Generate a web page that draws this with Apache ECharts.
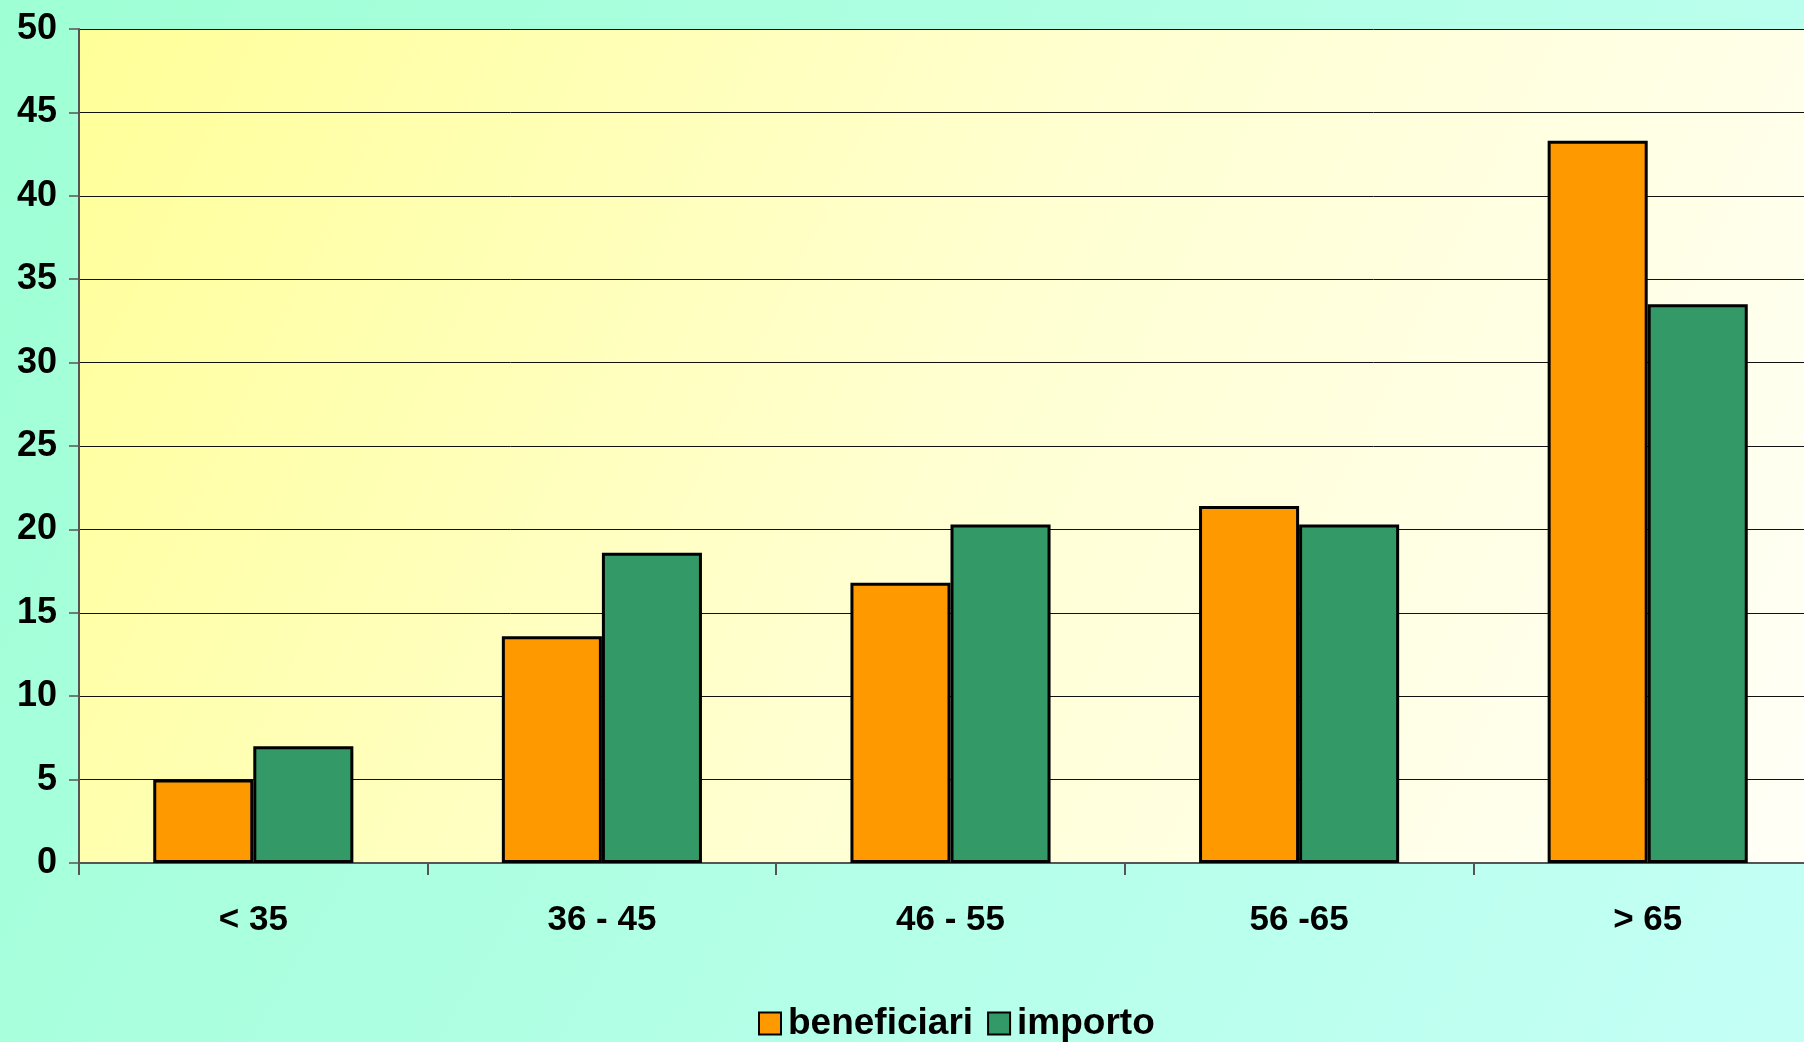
<!DOCTYPE html>
<html>
<head>
<meta charset="utf-8">
<script src="https://cdn.jsdelivr.net/npm/echarts@6/dist/echarts.min.js"></script>
<style>html,body{margin:0;padding:0;}#c{width:1804px;height:1042px;}</style>
</head>
<body>
<div id="c"></div>
<script>
const categories = ['< 35', '36 - 45', '46 - 55', '56 -65', '> 65'];
const beneficiari = [5.0, 13.6, 16.8, 21.4, 43.3];
const importo = [7.0, 18.6, 20.3, 20.3, 33.5];
const seriesNames = ['beneficiari', 'importo'];

const chart = echarts.init(document.getElementById('c'));
const font = 'Liberation Sans, Arial, sans-serif';
chart.setOption({
  animation: false,
  backgroundColor: new echarts.graphic.LinearGradient(0, 0, 1, 1, [
    {offset: 0, color: '#9effd4'},
    {offset: 1, color: '#c4fff6'}
  ]),
  grid: {
    left: 79, width: 1743, top: 29, bottom: 179,
    outerBoundsMode: 'none',
    containLabel: false,
    show: true, borderWidth: 0,
    backgroundColor: new echarts.graphic.LinearGradient(0, 0, 1, 1, [
      {offset: 0, color: '#ffff99'},
      {offset: 0.5, color: '#ffffd2'},
      {offset: 1, color: '#fffff8'}
    ])
  },
  legend: {
    left: 753, top: 1000,
    itemWidth: 22, itemHeight: 22, itemGap: 14,
    icon: 'rect',
    textStyle: {fontFamily: font, fontWeight: 'bold', fontSize: 37, color: '#000', padding: [0,0,0,2]},
    data: seriesNames
  },
  xAxis: {
    type: 'category',
    data: categories,
    axisLine: {lineStyle: {color: '#555', width: 2}},
    axisTick: {show: true, length: 12, lineStyle: {color: '#555', width: 2}},
    axisLabel: {fontFamily: font, fontWeight: 'bold', fontSize: 35, color: '#000', margin: 40}
  },
  yAxis: {
    type: 'value',
    min: 0, max: 50, interval: 5,
    axisLine: {show: true, lineStyle: {color: '#555', width: 2}},
    axisTick: {show: true, length: 10, lineStyle: {color: '#555', width: 1.5}},
    axisLabel: {fontFamily: font, fontWeight: 'bold', fontSize: 36, color: '#000', margin: 22},
    splitLine: {lineStyle: {color: '#111', width: 1}}
  },
  series: [
    {
      name: seriesNames[0], type: 'bar', data: beneficiari,
      barGap: '0%', barCategoryGap: '42.6%',
      itemStyle: {color: '#ff9900', borderColor: '#000', borderWidth: 3}
    },
    {
      name: seriesNames[1], type: 'bar', data: importo,
      itemStyle: {color: '#339966', borderColor: '#000', borderWidth: 3}
    }
  ]
});
</script>
</body>
</html>
